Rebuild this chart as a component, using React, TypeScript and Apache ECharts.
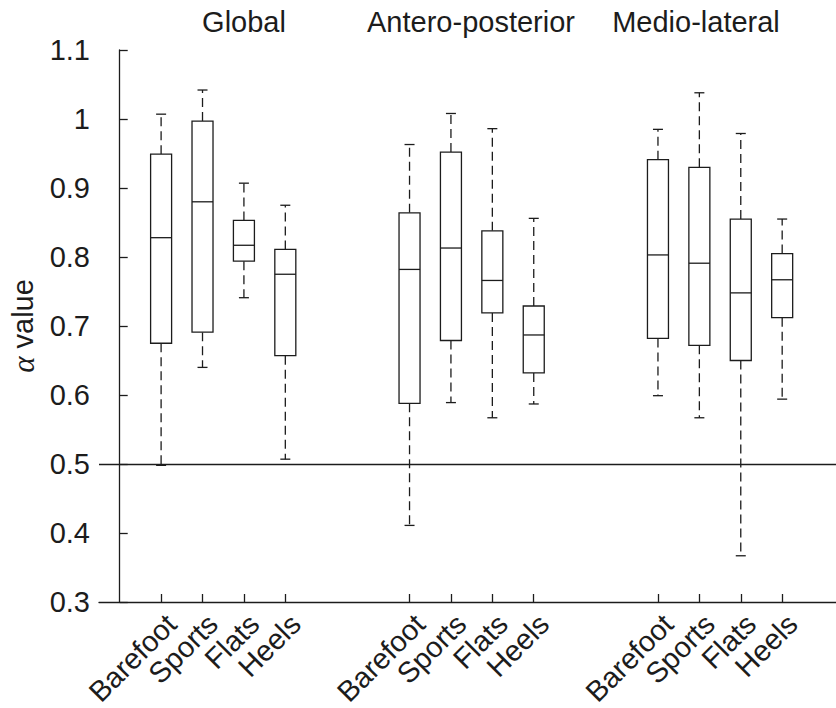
import React, { useEffect, useRef } from "react";
import * as echarts from "echarts";

const categories = ["Barefoot", "Sports", "Flats", "Heels"];
const groupTitles = ["Global", "Antero-posterior", "Medio-lateral"];
const positions = [1, 2, 3, 4, 7, 8, 9, 10, 13, 14, 15, 16];
const whiskerLow = [0.498, 0.64, 0.741, 0.507, 0.411, 0.589, 0.567, 0.587, 0.599, 0.567, 0.367, 0.594];
const q1 = [0.675, 0.691, 0.794, 0.657, 0.588, 0.679, 0.719, 0.632, 0.682, 0.672, 0.65, 0.712];
const medians = [0.828, 0.88, 0.817, 0.775, 0.782, 0.813, 0.766, 0.687, 0.803, 0.791, 0.748, 0.767];
const q3 = [0.949, 0.997, 0.853, 0.811, 0.864, 0.952, 0.838, 0.729, 0.941, 0.93, 0.855, 0.805];
const whiskerHigh = [1.007, 1.042, 0.907, 0.875, 0.963, 1.008, 0.986, 0.856, 0.985, 1.038, 0.979, 0.855];
const referenceValue = 0.5;
const yTicks = { min: 0.3, max: 1.1, interval: 0.1 };

const FONT = "'Liberation Sans', Arial, Helvetica, sans-serif";
const INK = "#1c1c1c";

export default function App() {
  const ref = useRef<HTMLDivElement>(null);

  useEffect(() => {
    if (!ref.current) return;
    const chart = echarts.init(ref.current, undefined, { renderer: "svg" });

    const data = positions.map((p, i) => [p, whiskerLow[i], q1[i], medians[i], q3[i], whiskerHigh[i]]);
    const labelFor = (v: number) => {
      const idx = positions.indexOf(Math.round(v));
      return idx >= 0 ? categories[idx % categories.length] : "";
    };

    const lineStyle = { stroke: INK, lineWidth: 1.3, fill: "none" };
    const dashStyle = { stroke: INK, lineWidth: 1.3, lineDash: [9, 5], fill: "none" };

    const option: any = {
      animation: false,
      backgroundColor: "#ffffff",
      textStyle: { fontFamily: FONT, color: INK },
      grid: { left: 99, right: 0, top: 50, bottom: 106, containLabel: false, outerBoundsMode: "none" },
      xAxis: {
        type: "value",
        min: -0.5,
        max: 17.3,
        splitLine: { show: false },
        axisLine: { show: true, lineStyle: { color: INK, width: 1.3 } },
        axisTick: { show: true, inside: true, length: 8, customValues: positions, lineStyle: { color: INK, width: 1.3 } },
        axisLabel: {
          show: true,
          customValues: positions,
          rotate: 45,
          margin: 7,
          verticalAlign: "top",
          fontSize: 29,
          fontFamily: FONT,
          color: INK,
          formatter: (v: number) => labelFor(v),
        },
      },
      yAxis: {
        type: "value",
        min: yTicks.min,
        max: yTicks.max,
        interval: yTicks.interval,
        splitLine: { show: false },
        axisLine: { show: true, lineStyle: { color: INK, width: 1.3 } },
        axisTick: { show: true, inside: true, length: 8, lineStyle: { color: INK, width: 1.3 } },
        axisLabel: { fontSize: 29, fontFamily: FONT, color: INK, margin: 9 },
        name: "{a|α} value",
        nameLocation: "middle",
        nameRotate: 90,
        nameGap: 58,
        nameTextStyle: {
          fontSize: 29,
          fontFamily: FONT,
          color: INK,
          rich: {
            a: { fontSize: 31, fontFamily: "'Liberation Serif', 'DejaVu Serif', serif", fontStyle: "italic", color: INK },
          },
        },
      },
      graphic: [
        { type: "text", x: 244, y: 22, style: { text: groupTitles[0], font: `29px ${FONT}`, fill: INK, align: "center", verticalAlign: "middle" } },
        { type: "text", x: 471, y: 22, style: { text: groupTitles[1], font: `29px ${FONT}`, fill: INK, align: "center", verticalAlign: "middle" } },
        { type: "text", x: 696, y: 22, style: { text: groupTitles[2], font: `29px ${FONT}`, fill: INK, align: "center", verticalAlign: "middle" } },
      ],
      series: [
        {
          type: "custom",
          encode: { x: 0, y: [1, 2, 3, 4, 5] },
          data,
          silent: true,
          renderItem: (params: any, api: any) => {
            const x = api.value(0);
            const pMin = api.coord([x, api.value(1)]);
            const pQ1 = api.coord([x, api.value(2)]);
            const pMed = api.coord([x, api.value(3)]);
            const pQ3 = api.coord([x, api.value(4)]);
            const pMax = api.coord([x, api.value(5)]);
            const xc = pMed[0];
            const hw = 10.5;
            const cw = 5;
            return {
              type: "group",
              children: [
                { type: "line", shape: { x1: xc, y1: pQ1[1], x2: xc, y2: pMin[1] }, style: dashStyle },
                { type: "line", shape: { x1: xc, y1: pQ3[1], x2: xc, y2: pMax[1] }, style: dashStyle },
                { type: "line", shape: { x1: xc - cw, y1: pMin[1], x2: xc + cw, y2: pMin[1] }, style: lineStyle },
                { type: "line", shape: { x1: xc - cw, y1: pMax[1], x2: xc + cw, y2: pMax[1] }, style: lineStyle },
                {
                  type: "rect",
                  shape: { x: xc - hw, y: pQ3[1], width: hw * 2, height: pQ1[1] - pQ3[1] },
                  style: { stroke: INK, lineWidth: 1.3, fill: "#ffffff" },
                },
                { type: "line", shape: { x1: xc - hw, y1: pMed[1], x2: xc + hw, y2: pMed[1] }, style: lineStyle },
              ],
            };
          },
          markLine: {
            silent: true,
            symbol: "none",
            label: { show: false },
            lineStyle: { color: INK, width: 1.3, type: "solid" },
            data: [{ yAxis: referenceValue }],
          },
          z: 2,
        },
      ],
    };

    chart.setOption(option);
    return () => chart.dispose();
  }, []);

  return (
    <div
      ref={ref}
      style={{ position: "fixed", left: 0, top: 0, width: 836, height: 708, background: "#fff" }}
    />
  );
}
